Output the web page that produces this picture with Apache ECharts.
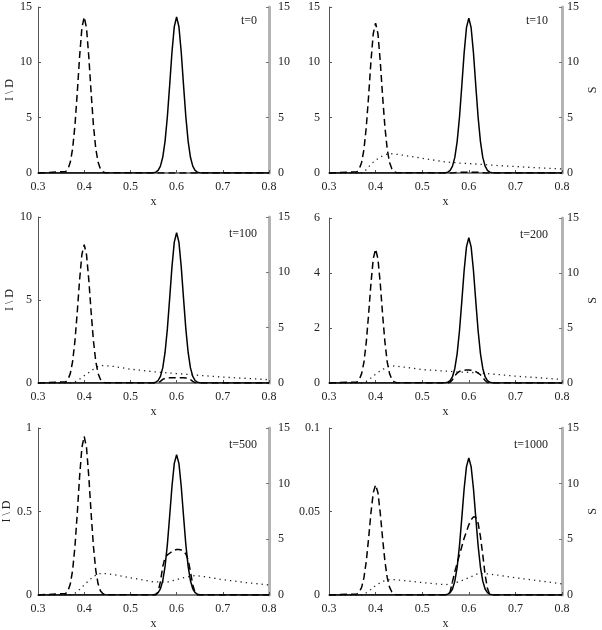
<!DOCTYPE html>
<html>
<head>
<meta charset="utf-8">
<script src="https://cdn.jsdelivr.net/npm/echarts@6/dist/echarts.min.js"></script>
<style>
html, body { margin: 0; padding: 0; background: #fff; }
#main { width: 602px; height: 630px; }
</style>
</head>
<body>
<div id="main"></div>
<script>
const times = ["t=0", "t=10", "t=100", "t=200", "t=500", "t=1000"];
const leftMax = [15, 15, 10, 6, 1, 0.1];
const leftStep = [5, 5, 5, 2, 0.5, 0.05];
const rightMax = 15;
const rightStep = 5;

// x positions of the samples
const xI = [0.3, 0.55, 0.555, 0.56, 0.565, 0.57, 0.575, 0.58, 0.585, 0.59, 0.595, 0.6,
    0.605, 0.61, 0.615, 0.62, 0.625, 0.63, 0.635, 0.64, 0.645, 0.65, 0.8];
const xD = [0.3, 0.36, 0.365, 0.37, 0.375, 0.38, 0.385, 0.39, 0.395, 0.4, 0.405, 0.41, 0.415,
    0.42, 0.425, 0.43, 0.435, 0.44, 0.445,
    0.555, 0.56, 0.565, 0.57, 0.575, 0.58, 0.585, 0.59, 0.595, 0.6, 0.605, 0.61, 0.615,
    0.62, 0.625, 0.63, 0.635, 0.64, 0.645, 0.8];
const xS = [0.3, 0.37, 0.38, 0.39, 0.4, 0.41, 0.42, 0.43, 0.44, 0.46, 0.5, 0.55, 0.58, 0.6,
    0.62, 0.64, 0.66, 0.7, 0.75, 0.8];

// I (solid)
const iT0 = [0, 0.03, 0.08, 0.24, 0.62, 1.42, 2.86, 5.08, 7.94, 10.93, 13.23, 14.1, 13.23, 10.93, 7.94, 5.08, 2.86, 1.42, 0.62, 0.24, 0.08, 0.03, 0];
const iT10 = [0, 0.03, 0.08, 0.24, 0.62, 1.41, 2.84, 5.04, 7.88, 10.85, 13.13, 14.0, 13.13, 10.85, 7.88, 5.04, 2.84, 1.41, 0.62, 0.24, 0.08, 0.03, 0];
const iT100 = [0, 0.02, 0.05, 0.15, 0.4, 0.91, 1.84, 3.26, 5.1, 7.01, 8.49, 9.05, 8.49, 7.01, 5.1, 3.26, 1.84, 0.91, 0.4, 0.15, 0.05, 0.02, 0];
const iT200 = [0, 0.01, 0.03, 0.09, 0.23, 0.53, 1.07, 1.9, 2.97, 4.09, 4.95, 5.28, 4.95, 4.09, 2.97, 1.9, 1.07, 0.53, 0.23, 0.09, 0.03, 0.01, 0];
const iT500 = [0, 0.002, 0.005, 0.014, 0.037, 0.085, 0.171, 0.302, 0.473, 0.651, 0.788, 0.84, 0.788, 0.651, 0.473, 0.302, 0.171, 0.085, 0.037, 0.014, 0.005, 0.002, 0];
const iT1000 = [0, 0.0002, 0.0005, 0.0014, 0.0036, 0.0083, 0.0166, 0.0295, 0.0462, 0.0636, 0.0769, 0.082, 0.0769, 0.0636, 0.0462, 0.0295, 0.0166, 0.0083, 0.0036, 0.0014, 0.0005, 0.0002, 0];

// D (dashed)
const dT0 = [0, 0.13, 0.38, 0.99, 2.21, 4.31, 7.25, 10.49, 13.1, 14.1, 13.1, 10.49, 7.25, 4.31, 2.21, 0.99, 0.38, 0.13, 0.03,
    0, 0, 0, 0, 0, 0, 0, 0, 0, 0, 0, 0, 0, 0, 0, 0, 0, 0, 0, 0];
const dT10 = [0, 0.12, 0.37, 0.95, 2.13, 4.15, 6.96, 10.08, 12.59, 13.55, 12.59, 10.08, 6.96, 4.15, 2.13, 0.95, 0.37, 0.12, 0.03,
    0, 0, 0.01, 0.03, 0.05, 0.06, 0.06, 0.06, 0.06, 0.06, 0.06, 0.06, 0.06, 0.06, 0.05, 0.03, 0.01, 0, 0, 0];
const dT100 = [0, 0.07, 0.22, 0.58, 1.31, 2.55, 4.28, 6.2, 7.74, 8.33, 7.74, 6.2, 4.28, 2.55, 1.31, 0.58, 0.22, 0.07, 0.02,
    0, 0.02, 0.1, 0.22, 0.28, 0.3, 0.31, 0.32, 0.32, 0.32, 0.32, 0.32, 0.31, 0.3, 0.27, 0.2, 0.1, 0.02, 0, 0];
const dT200 = [0, 0.04, 0.13, 0.34, 0.76, 1.49, 2.5, 3.62, 4.52, 4.87, 4.52, 3.62, 2.5, 1.49, 0.76, 0.34, 0.13, 0.04, 0.01,
    0, 0.03, 0.12, 0.26, 0.36, 0.42, 0.45, 0.46, 0.47, 0.47, 0.46, 0.44, 0.41, 0.36, 0.3, 0.2, 0.09, 0.02, 0, 0];
const dT500 = [0, 0.009, 0.026, 0.067, 0.149, 0.291, 0.488, 0.707, 0.883, 0.95, 0.883, 0.707, 0.488, 0.291, 0.149, 0.067, 0.026, 0.009, 0.002,
    0, 0.02, 0.08, 0.17, 0.225, 0.24, 0.25, 0.26, 0.268, 0.272, 0.272, 0.27, 0.262, 0.245, 0.21, 0.14, 0.06, 0.015, 0, 0];
const dT1000 = [0, 0.0006, 0.0018, 0.0046, 0.0104, 0.0202, 0.0339, 0.0491, 0.0613, 0.066, 0.0613, 0.0491, 0.0339, 0.0202, 0.0104, 0.0046, 0.0018, 0.0006, 0.0001,
    0, 0.002, 0.008, 0.014, 0.019, 0.024, 0.029, 0.034, 0.038, 0.042, 0.045, 0.0468, 0.0465, 0.043, 0.035, 0.024, 0.012, 0.004, 0, 0];

// S (dotted, right axis)
const sT0 = [];
const sT10 = [0, 0, 0.3, 0.8, 1.15, 1.45, 1.65, 1.75, 1.72, 1.6, 1.33, 1.0, 0.9, 0.85, 0.8, 0.74, 0.68, 0.58, 0.47, 0.37];
const sT100 = [0, 0, 0.1, 0.35, 0.65, 0.95, 1.25, 1.5, 1.58, 1.52, 1.25, 1.02, 0.92, 0.85, 0.79, 0.72, 0.66, 0.53, 0.42, 0.3];
const sT200 = [0, 0, 0.15, 0.45, 0.8, 1.1, 1.35, 1.52, 1.55, 1.45, 1.22, 1.08, 1.0, 0.97, 0.93, 0.85, 0.78, 0.62, 0.48, 0.32];
const sT500 = [0, 0, 0.15, 0.5, 0.9, 1.3, 1.65, 1.9, 1.95, 1.85, 1.55, 1.18, 1.16, 1.38, 1.6, 1.75, 1.65, 1.38, 1.12, 0.9];
const sT1000 = [0, 0, 0.2, 0.5, 0.85, 1.1, 1.3, 1.38, 1.38, 1.3, 1.12, 0.92, 1.2, 1.55, 1.93, 1.9, 1.8, 1.55, 1.28, 1.0];

const iSets = [iT0, iT10, iT100, iT200, iT500, iT1000];
const dSets = [dT0, dT10, dT100, dT200, dT500, dT1000];
const sSets = [sT0, sT10, sT100, sT200, sT500, sT1000];

const font = "Liberation Serif";
const boxes = [
    { left: 38, top: 7, width: 231, height: 166 },
    { left: 329, top: 7, width: 233, height: 166 },
    { left: 38, top: 217, width: 231, height: 166 },
    { left: 329, top: 218, width: 233, height: 165 },
    { left: 38, top: 428, width: 231, height: 167 },
    { left: 329, top: 428, width: 233, height: 167 }
];

const pairs = (xs, ys) => ys.map((y, i) => [xs[i], y]);

const chart = echarts.init(document.getElementById("main"));

const grid = [], xAxis = [], yAxis = [], series = [], graphic = [];

boxes.forEach((b, k) => {
    const leftCol = k % 2 === 0;
    grid.push(Object.assign({ outerBoundsMode: "none" }, b));
    xAxis.push({
        type: "value", gridIndex: k, min: 0.3, max: 0.8, interval: 0.1,
        name: "x", nameLocation: "middle", nameGap: 23,
        nameTextStyle: { fontFamily: font, fontSize: 12, color: "#222" },
        axisLine: { lineStyle: { color: "#555", width: 1.5 } },
        axisTick: { inside: true, length: 3, lineStyle: { color: "#555" } },
        axisLabel: { fontFamily: font, fontSize: 12, color: "#222", margin: 8 },
        splitLine: { show: false }
    });
    yAxis.push({
        type: "value", gridIndex: k, position: "left", min: 0, max: leftMax[k], interval: leftStep[k],
        name: leftCol ? "I \\ D" : "", nameLocation: "middle", nameGap: 22,
        nameTextStyle: { fontFamily: font, fontSize: 12, color: "#222" },
        axisLine: { show: true, lineStyle: { color: "#555", width: 1 } },
        axisTick: { show: true, inside: true, length: 3, lineStyle: { color: "#555" } },
        axisLabel: { fontFamily: font, fontSize: 12, color: "#222", margin: leftCol ? 6 : 9 },
        splitLine: { show: false }
    });
    yAxis.push({
        type: "value", gridIndex: k, position: "right", min: 0, max: rightMax, interval: rightStep,
        name: leftCol ? "" : "S", nameLocation: "middle", nameGap: 25,
        nameTextStyle: { fontFamily: font, fontSize: 12, color: "#222" },
        axisLine: { show: true, lineStyle: { color: "#b4b4b4", width: 3 } },
        axisTick: { show: true, inside: true, length: 3, lineStyle: { color: "#777" } },
        axisLabel: { fontFamily: font, fontSize: 12, color: "#222", margin: leftCol ? 9 : 5 },
        splitLine: { show: false }
    });

    if (sSets[k].length) {
        series.push({
            type: "line", xAxisIndex: k, yAxisIndex: 2 * k + 1, showSymbol: false,
            data: pairs(xS, sSets[k]),
            lineStyle: { color: "#222", width: 1.3, type: [1.3, 4] }
        });
    }
    series.push({
        type: "line", xAxisIndex: k, yAxisIndex: 2 * k, showSymbol: false,
        data: pairs(xD, dSets[k]),
        lineStyle: { color: "#000", width: 1.5, type: [7, 4] }
    });
    series.push({
        type: "line", xAxisIndex: k, yAxisIndex: 2 * k, showSymbol: false,
        data: pairs(xI, iSets[k]),
        lineStyle: { color: "#000", width: 1.5 }
    });

    graphic.push({
        type: "text",
        x: b.left + b.width - 12 - (leftCol ? 0 : 2),
        y: b.top + (k < 2 ? 8 : 11),
        style: {
            text: times[k], font: "12px " + font, fill: "#222",
            align: "right", verticalAlign: "top"
        }
    });
});

chart.setOption({
    animation: false,
    backgroundColor: "#fff",
    grid: grid,
    xAxis: xAxis,
    yAxis: yAxis,
    series: series,
    graphic: graphic
});
</script>
</body>
</html>
